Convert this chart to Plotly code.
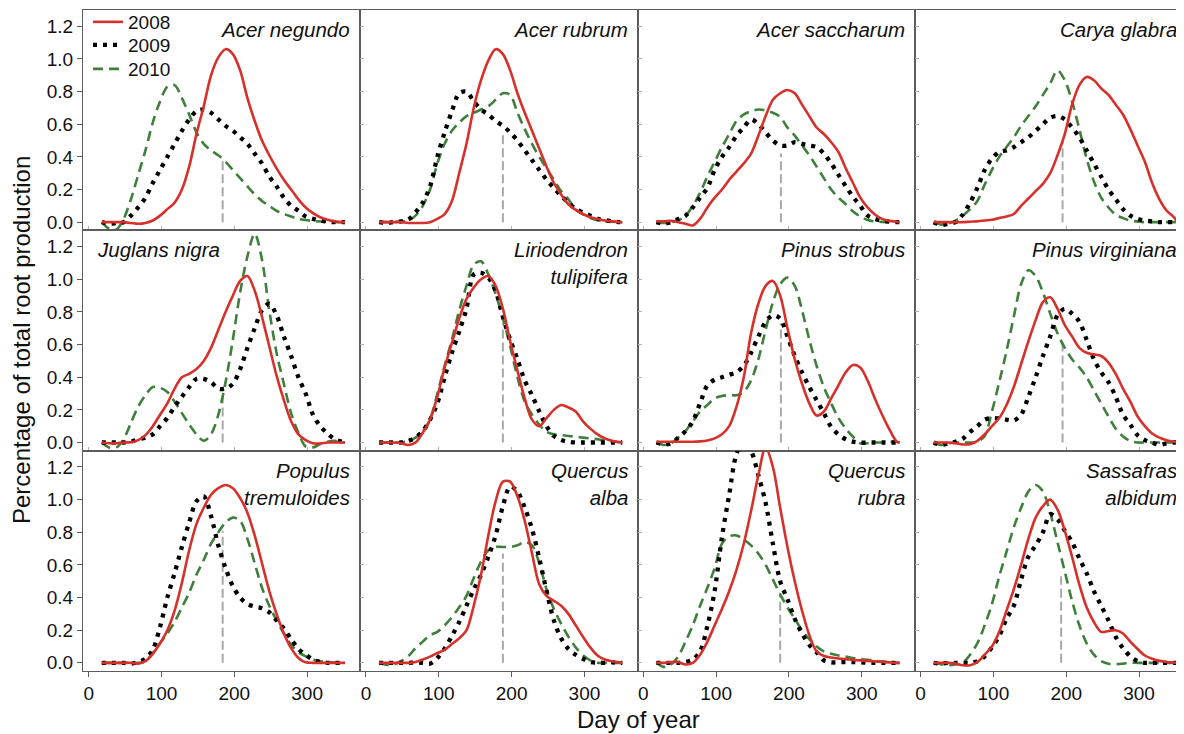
import plotly.graph_objects as go

# ---------------- data ----------------
DAYS = [18, 28, 38, 48, 58, 68, 78, 88, 98, 108, 118, 128, 138, 148, 158, 168, 178,
        188, 198, 208, 218, 228, 238, 248, 258, 268, 278, 288, 298, 308, 318, 328, 338,
        348, 352]

YEARS = ["2008", "2009", "2010"]

ACNE_2008 = [0, 0, 0, 0, -0.005, -0.01, -0.005, 0.01, 0.04, 0.08, 0.12, 0.2, 0.34, 0.54, 0.71, 0.9, 1.01, 1.06, 1.03, 0.93, 0.76, 0.62, 0.5, 0.41, 0.33, 0.26, 0.2, 0.14, 0.09, 0.055, 0.03, 0.015, 0.005, 0, 0]
ACNE_2009 = [0, -0.01, -0.005, 0, 0.04, 0.09, 0.15, 0.24, 0.32, 0.4, 0.48, 0.56, 0.63, 0.68, 0.69, 0.67, 0.63, 0.59, 0.56, 0.52, 0.48, 0.42, 0.36, 0.28, 0.22, 0.15, 0.1, 0.07, 0.035, 0.02, 0.01, 0.003, 0, 0, 0]
ACNE_2010 = [0, -0.04, -0.045, 0.02, 0.14, 0.29, 0.44, 0.61, 0.74, 0.83, 0.84, 0.76, 0.66, 0.55, 0.48, 0.44, 0.41, 0.37, 0.32, 0.27, 0.22, 0.17, 0.13, 0.1, 0.07, 0.05, 0.035, 0.02, 0.013, 0.007, 0.004, 0.002, 0, 0, 0]

ACRU_2008 = [0, 0, 0, 0, -0.005, -0.005, -0.005, 0, 0.02, 0.05, 0.13, 0.3, 0.48, 0.7, 0.87, 0.99, 1.06, 1.03, 0.93, 0.79, 0.67, 0.56, 0.45, 0.34, 0.24, 0.17, 0.11, 0.075, 0.05, 0.03, 0.02, 0.01, 0.005, 0, 0]
ACRU_2009 = [0, -0.005, 0, 0.005, 0.016, 0.06, 0.12, 0.22, 0.4, 0.55, 0.68, 0.79, 0.8, 0.74, 0.69, 0.66, 0.62, 0.59, 0.55, 0.5, 0.44, 0.38, 0.32, 0.26, 0.21, 0.16, 0.12, 0.08, 0.06, 0.04, 0.02, 0.013, 0.005, 0, 0]
ACRU_2010 = [0, 0, 0, 0.005, 0.01, 0.04, 0.1, 0.2, 0.36, 0.48, 0.56, 0.61, 0.65, 0.67, 0.69, 0.71, 0.75, 0.79, 0.78, 0.67, 0.57, 0.48, 0.4, 0.33, 0.26, 0.19, 0.14, 0.08, 0.047, 0.025, 0.012, 0.006, 0.003, 0, 0]

ACSA_2008 = [0.005, 0.005, 0.008, 0.0, -0.01, -0.02, 0.02, 0.09, 0.15, 0.2, 0.26, 0.31, 0.36, 0.42, 0.53, 0.65, 0.75, 0.79, 0.81, 0.79, 0.72, 0.65, 0.58, 0.54, 0.49, 0.43, 0.33, 0.24, 0.15, 0.09, 0.047, 0.02, 0.008, 0.003, 0]
ACSA_2009 = [0, -0.008, 0, 0.02, 0.04, 0.09, 0.15, 0.21, 0.32, 0.4, 0.46, 0.53, 0.58, 0.63, 0.6, 0.55, 0.5, 0.47, 0.47, 0.49, 0.48, 0.47, 0.46, 0.42, 0.36, 0.29, 0.22, 0.155, 0.1, 0.04, 0.02, 0.01, 0.003, 0, 0]
ACSA_2010 = [0, -0.005, 0, 0.01, 0.04, 0.1, 0.18, 0.28, 0.37, 0.46, 0.54, 0.62, 0.66, 0.68, 0.69, 0.685, 0.67, 0.645, 0.58, 0.53, 0.47, 0.41, 0.34, 0.27, 0.2, 0.15, 0.11, 0.065, 0.035, 0.013, 0.005, 0.002, 0, 0, 0]

CAGL_2008 = [0, 0, 0, 0, 0, 0.003, 0.005, 0.01, 0.015, 0.025, 0.035, 0.05, 0.1, 0.145, 0.19, 0.235, 0.3, 0.41, 0.54, 0.72, 0.84, 0.89, 0.87, 0.82, 0.78, 0.72, 0.66, 0.57, 0.47, 0.37, 0.24, 0.14, 0.07, 0.03, 0.005]
CAGL_2009 = [0, -0.015, -0.01, 0, 0.047, 0.12, 0.21, 0.32, 0.39, 0.43, 0.44, 0.46, 0.49, 0.52, 0.56, 0.6, 0.64, 0.65, 0.63, 0.58, 0.52, 0.44, 0.36, 0.28, 0.2, 0.14, 0.08, 0.04, 0.02, 0.01, 0.005, 0, 0, 0, 0]
CAGL_2010 = [0, -0.015, -0.008, 0.01, 0.04, 0.08, 0.13, 0.23, 0.32, 0.4, 0.46, 0.52, 0.59, 0.65, 0.71, 0.78, 0.85, 0.93, 0.87, 0.74, 0.57, 0.39, 0.25, 0.15, 0.09, 0.045, 0.025, 0.01, 0.004, 0, 0, 0, 0, 0, 0]

JUNI_2008 = [0, -0.005, -0.005, 0, 0.002, 0.015, 0.045, 0.1, 0.17, 0.24, 0.33, 0.4, 0.42, 0.45, 0.5, 0.58, 0.69, 0.8, 0.9, 0.99, 1.02, 0.93, 0.77, 0.59, 0.41, 0.26, 0.13, 0.05, 0.015, -0.005, -0.006, 0, 0, 0, 0]
JUNI_2009 = [0, 0, 0, 0, 0.005, 0.02, 0.03, 0.05, 0.1, 0.15, 0.22, 0.28, 0.34, 0.39, 0.39, 0.37, 0.33, 0.33, 0.36, 0.45, 0.58, 0.7, 0.81, 0.85, 0.78, 0.65, 0.53, 0.4, 0.3, 0.17, 0.1, 0.055, 0.02, 0.005, 0]
JUNI_2010 = [0, -0.03, -0.03, 0.02, 0.12, 0.22, 0.29, 0.34, 0.335, 0.31, 0.25, 0.18, 0.11, 0.05, 0.01, 0.05, 0.17, 0.37, 0.63, 0.92, 1.14, 1.28, 1.12, 0.81, 0.55, 0.36, 0.18, 0.06, -0.025, -0.03, -0.01, 0.005, 0.01, 0, 0]

LITU_2008 = [0, 0, 0, -0.005, -0.015, 0.0, 0.06, 0.14, 0.28, 0.46, 0.61, 0.76, 0.88, 0.95, 1.0, 1.02, 0.96, 0.82, 0.62, 0.44, 0.27, 0.14, 0.1, 0.15, 0.2, 0.23, 0.215, 0.19, 0.13, 0.085, 0.05, 0.025, 0.01, 0.003, 0]
LITU_2009 = [0, 0, 0, 0, 0.01, 0.03, 0.07, 0.14, 0.24, 0.4, 0.55, 0.68, 0.82, 1.03, 1.04, 1.01, 0.93, 0.77, 0.63, 0.51, 0.38, 0.29, 0.19, 0.1, 0.04, 0.015, 0.005, 0, 0, 0, 0, 0, 0, 0, 0]
LITU_2010 = [0, 0, 0, 0, 0.01, 0.03, 0.07, 0.14, 0.3, 0.47, 0.63, 0.81, 0.96, 1.09, 1.11, 1.03, 0.91, 0.76, 0.59, 0.4, 0.25, 0.17, 0.11, 0.065, 0.05, 0.045, 0.04, 0.035, 0.03, 0.025, 0.02, 0.012, 0.006, 0.002, 0]

PIST_2008 = [0.005, 0.005, 0.005, 0.005, 0.005, 0.005, 0.007, 0.012, 0.025, 0.05, 0.1, 0.22, 0.4, 0.67, 0.85, 0.96, 0.99, 0.9, 0.7, 0.51, 0.36, 0.24, 0.165, 0.19, 0.27, 0.35, 0.43, 0.475, 0.46, 0.38, 0.27, 0.17, 0.08, 0.005, 0]
PIST_2009 = [0, -0.01, -0.005, 0.03, 0.07, 0.13, 0.24, 0.35, 0.385, 0.4, 0.415, 0.43, 0.47, 0.55, 0.65, 0.74, 0.78, 0.76, 0.65, 0.53, 0.43, 0.34, 0.26, 0.18, 0.095, 0.05, 0.02, 0.005, 0, 0, 0, 0, 0, 0, 0]
PIST_2010 = [0, -0.015, -0.005, 0.03, 0.07, 0.13, 0.19, 0.23, 0.27, 0.285, 0.29, 0.29, 0.31, 0.38, 0.51, 0.69, 0.86, 0.97, 1.01, 0.96, 0.81, 0.63, 0.47, 0.34, 0.24, 0.15, 0.085, 0.035, -0.005, -0.005, 0, 0, 0.003, 0.005, 0]

PIVI_2008 = [0, 0, 0, -0.005, -0.012, -0.01, 0.01, 0.05, 0.1, 0.15, 0.23, 0.34, 0.48, 0.62, 0.75, 0.86, 0.89, 0.82, 0.72, 0.65, 0.58, 0.55, 0.54, 0.53, 0.49, 0.42, 0.33, 0.25, 0.16, 0.1, 0.055, 0.03, 0.014, 0.005, 0]
PIVI_2009 = [0, -0.015, -0.005, 0.005, 0.024, 0.065, 0.1, 0.14, 0.15, 0.147, 0.14, 0.135, 0.17, 0.28, 0.4, 0.53, 0.65, 0.78, 0.82, 0.79, 0.74, 0.63, 0.51, 0.43, 0.37, 0.28, 0.17, 0.11, 0.045, 0.015, 0, -0.015, -0.005, 0, 0]
PIVI_2010 = [0, -0.015, -0.005, 0, 0, 0, 0.005, 0.04, 0.19, 0.37, 0.56, 0.77, 0.97, 1.055, 1.02, 0.92, 0.79, 0.67, 0.58, 0.51, 0.46, 0.4, 0.32, 0.24, 0.16, 0.085, 0.037, 0.01, 0, 0, 0, 0, 0, 0, 0]

POTR_2008 = [0, 0, 0, 0, 0, -0.005, 0.01, 0.055, 0.12, 0.2, 0.32, 0.49, 0.69, 0.85, 0.95, 1.03, 1.07, 1.09, 1.07, 1.01, 0.92, 0.78, 0.61, 0.44, 0.3, 0.18, 0.09, 0.03, 0.003, 0, 0, 0, 0, 0, 0]
POTR_2009 = [0, 0, 0, 0, -0.005, 0.005, 0.025, 0.08, 0.22, 0.4, 0.55, 0.71, 0.86, 0.99, 1.02, 0.9, 0.72, 0.58, 0.47, 0.4, 0.36, 0.345, 0.335, 0.31, 0.26, 0.21, 0.145, 0.085, 0.05, 0.02, 0.005, 0, 0, 0, 0]
POTR_2010 = [0, 0, 0, 0, 0, 0, 0.01, 0.06, 0.12, 0.18, 0.25, 0.34, 0.43, 0.54, 0.63, 0.73, 0.8, 0.86, 0.89, 0.87, 0.76, 0.61, 0.46, 0.35, 0.26, 0.18, 0.11, 0.065, 0.04, 0.02, 0.01, 0.005, 0.002, 0, 0]

QUAL_2008 = [0, 0, 0, 0, 0, 0.005, 0.02, 0.038, 0.06, 0.08, 0.115, 0.15, 0.2, 0.35, 0.54, 0.78, 0.99, 1.11, 1.11, 1.02, 0.87, 0.67, 0.48, 0.41, 0.38, 0.35, 0.3, 0.23, 0.16, 0.095, 0.045, 0.02, 0.01, 0.003, 0]
QUAL_2009 = [0, 0, 0, 0, 0, 0.002, 0.0, -0.005, 0.03, 0.087, 0.165, 0.25, 0.35, 0.45, 0.54, 0.65, 0.78, 0.96, 1.08, 1.05, 0.95, 0.82, 0.64, 0.44, 0.26, 0.15, 0.085, 0.05, 0.025, 0.005, 0, 0, 0.003, 0, 0]
QUAL_2010 = [0, -0.012, -0.01, 0.01, 0.04, 0.09, 0.13, 0.17, 0.19, 0.23, 0.28, 0.34, 0.41, 0.52, 0.62, 0.69, 0.71, 0.71, 0.71, 0.72, 0.74, 0.72, 0.61, 0.45, 0.33, 0.24, 0.16, 0.095, 0.047, 0.015, 0, 0, 0, 0, 0]

QURU_2008 = [0, 0, 0.005, 0.005, -0.01, 0.0, 0.05, 0.13, 0.23, 0.33, 0.44, 0.57, 0.73, 0.93, 1.15, 1.32, 1.2, 0.95, 0.71, 0.5, 0.32, 0.17, 0.07, 0.042, 0.033, 0.027, 0.023, 0.018, 0.015, 0.012, 0.009, 0.006, 0.003, 0, 0]
QURU_2009 = [0, 0, 0, 0, 0.005, 0.02, 0.07, 0.225, 0.44, 0.77, 1.03, 1.28, 1.36, 1.3, 1.15, 0.98, 0.73, 0.5, 0.39, 0.27, 0.18, 0.11, 0.065, 0.015, 0.003, 0.003, 0.005, 0.005, 0.003, 0, 0, 0, 0, 0, 0]
QURU_2010 = [0, -0.025, -0.01, 0.04, 0.13, 0.23, 0.35, 0.46, 0.58, 0.73, 0.775, 0.78, 0.755, 0.72, 0.67, 0.6, 0.51, 0.42, 0.34, 0.27, 0.2, 0.145, 0.1, 0.07, 0.055, 0.045, 0.038, 0.03, 0.024, 0.018, 0.012, 0.008, 0.004, 0, 0]

SAAL_2008 = [0, 0, 0, -0.005, -0.015, -0.015, 0.005, 0.05, 0.1, 0.19, 0.32, 0.45, 0.6, 0.76, 0.89, 0.96, 1.0, 0.94, 0.81, 0.65, 0.48, 0.34, 0.25, 0.19, 0.195, 0.2, 0.18, 0.13, 0.085, 0.045, 0.025, 0.012, 0.005, 0.002, 0]
SAAL_2009 = [0, -0.005, 0, 0, 0, 0, 0.01, 0.04, 0.095, 0.165, 0.27, 0.35, 0.51, 0.65, 0.72, 0.8, 0.91, 0.88, 0.81, 0.74, 0.64, 0.55, 0.44, 0.35, 0.26, 0.16, 0.09, 0.04, 0.01, 0, 0, 0, 0, 0, 0]
SAAL_2010 = [0, -0.008, -0.015, -0.01, 0.0, 0.05, 0.12, 0.23, 0.36, 0.53, 0.68, 0.83, 0.95, 1.05, 1.09, 1.05, 0.92, 0.74, 0.56, 0.38, 0.23, 0.12, 0.05, 0.01, -0.005, -0.008, -0.005, 0, 0, 0, 0, 0, 0, 0, 0]

SPECIES = ["Acer negundo", "Acer rubrum", "Acer saccharum", "Carya glabra",
           "Juglans nigra", "Liriodendron<br>tulipifera", "Pinus strobus", "Pinus virginiana",
           "Populus<br>tremuloides", "Quercus<br>alba", "Quercus<br>rubra", "Sassafras<br>albidum"]
TITLE_SIDE = ["right", "right", "right", "right",
              "left", "right", "right", "right",
              "right", "right", "right", "right"]

SERIES = [
    (ACNE_2008, ACNE_2009, ACNE_2010), (ACRU_2008, ACRU_2009, ACRU_2010),
    (ACSA_2008, ACSA_2009, ACSA_2010), (CAGL_2008, CAGL_2009, CAGL_2010),
    (JUNI_2008, JUNI_2009, JUNI_2010), (LITU_2008, LITU_2009, LITU_2010),
    (PIST_2008, PIST_2009, PIST_2010), (PIVI_2008, PIVI_2009, PIVI_2010),
    (POTR_2008, POTR_2009, POTR_2010), (QUAL_2008, QUAL_2009, QUAL_2010),
    (QURU_2008, QURU_2009, QURU_2010), (SAAL_2008, SAAL_2009, SAAL_2010),
]

# gray dashed reference line per panel (day, height)
VLINE_DAY = [184, 188, 189, 195, 184, 188, 189, 195, 184, 188, 188, 193]
VLINE_TOP = [0.38, 0.555, 0.42, 0.5, 0.3, 0.73, 0.73, 0.62, 0.81, 0.67, 0.43, 0.53]

X_TICKS = [0, 100, 200, 300]
Y_TICKS = [0.0, 0.2, 0.4, 0.6, 0.8, 1.0, 1.2]

# ---------------- styling / layout ----------------
# The page body has an 8px default margin, so the figure is sized 8px smaller.
W, H = 1176, 726
ML, MR, MT, MB = 75, 0, 2, 63
PLOT_W = W - ML - MR
PLOT_H = H - MT - MB
PANEL_PX = 277.3
PX_PER_DAY = 0.7282
X_MIN = -7.8
Y_RANGE = [-0.05, 1.30]

FONT = "Liberation Sans, Arial, Helvetica, sans-serif"
RED = "#d7302b"
GREEN = "#3e7f3a"
BLACK = "#000000"
GRAY = "#a8a8a8"
FRAME = "#5c5c5c"

STYLES = [
    dict(color=RED, width=2.6, dash="solid"),
    dict(color=BLACK, width=4.3, dash="4px,6px"),
    dict(color=GREEN, width=2.6, dash="10px,6px"),
]
LEGEND_NAMES = ["legend", "legend2", "legend3"]
LEGEND_Y_PX = [14, 37, 61]          # figure-pixel centre of each legend row

fig = go.Figure()

col_edges = [(0, PANEL_PX), (PANEL_PX, 2 * PANEL_PX), (2 * PANEL_PX, 3 * PANEL_PX),
             (3 * PANEL_PX, PLOT_W)]
row_dom = [(2 / 3, 1.0), (1 / 3, 2 / 3), (0.0, 1 / 3)]

annotations = []
for i in range(12):
    r, c = divmod(i, 4)
    n = i + 1
    xa = "x" if n == 1 else f"x{n}"
    ya = "y" if n == 1 else f"y{n}"

    # vertical gray dashed line
    fig.add_trace(go.Scatter(
        x=[VLINE_DAY[i], VLINE_DAY[i]], y=[0, VLINE_TOP[i]], mode="lines",
        line=dict(color=GRAY, width=2, dash="9px,4px"),
        xaxis=xa, yaxis=ya, showlegend=False, hoverinfo="skip"))

    for k in (2, 1, 0):
        fig.add_trace(go.Scatter(
            x=DAYS, y=SERIES[i][k], mode="lines", name=YEARS[k],
            line=dict(shape="spline", smoothing=0.9, **STYLES[k]),
            xaxis=xa, yaxis=ya, showlegend=(i == 0), legend=LEGEND_NAMES[k],
            hoverinfo="skip"))

    x0p, x1p = col_edges[c]
    dom_x = [x0p / PLOT_W, x1p / PLOT_W]
    x_max = X_MIN + (x1p - x0p) / PX_PER_DAY
    bottom = (r == 2)
    left = (c == 0)

    xkey = "xaxis" if n == 1 else f"xaxis{n}"
    ykey = "yaxis" if n == 1 else f"yaxis{n}"
    fig.layout[xkey] = dict(
        domain=dom_x, range=[X_MIN, x_max], anchor=ya, automargin=False,
        tickvals=X_TICKS, showticklabels=bottom,
        ticks="outside" if bottom else "inside",
        ticklen=5 if bottom else 4,
        tickcolor=FRAME if bottom else "#b0b0b0",
        tickfont=dict(family=FONT, size=19, color="#111"),
        showline=True, linecolor=FRAME, linewidth=1, mirror=True,
        showgrid=False, zeroline=False, fixedrange=True)
    fig.layout[ykey] = dict(
        domain=list(row_dom[r]), range=Y_RANGE, anchor=xa, automargin=False,
        tickvals=Y_TICKS, tickformat=".1f", showticklabels=left,
        ticks="outside" if left else "inside",
        ticklen=5 if left else 4,
        tickcolor=FRAME if left else "#b0b0b0",
        tickfont=dict(family=FONT, size=19, color="#111"),
        showline=True, linecolor=FRAME, linewidth=1, mirror=(c != 3),
        showgrid=False, zeroline=False, fixedrange=True)

    side = TITLE_SIDE[i]
    annotations.append(dict(
        text="<i>" + SPECIES[i] + "</i>", showarrow=False,
        xref=f"{xa} domain", yref=f"{ya} domain",
        x=1 if side == "right" else 0, y=1,
        xanchor=side, yanchor="top", align=side,
        xshift=(-8 if c != 3 else -5) if side == "right" else 12, yshift=-6,
        font=dict(family=FONT, size=20.5, color="#111")))

annotations.append(dict(
    text="Percentage of total root production", showarrow=False, textangle=-90,
    xref="paper", yref="paper", x=(13 - ML) / PLOT_W, y=(H - MB - 332) / PLOT_H,
    xanchor="center", yanchor="middle", font=dict(family=FONT, size=24, color="#111")))
annotations.append(dict(
    text="Day of year", showarrow=False,
    xref="paper", yref="paper", x=(630 - ML) / PLOT_W, y=(H - MB - 711) / PLOT_H,
    xanchor="center", yanchor="middle", font=dict(family=FONT, size=24, color="#111")))

legend_layout = {}
for k, lname in enumerate(LEGEND_NAMES):
    legend_layout[lname] = dict(
        x=(80 - ML) / PLOT_W, y=(H - MB - LEGEND_Y_PX[k]) / PLOT_H,
        xanchor="left", yanchor="middle",
        bgcolor="rgba(0,0,0,0)", borderwidth=0,
        font=dict(family=FONT, size=19, color="#111"),
        itemwidth=30)

fig.update_layout(
    width=W, height=H,
    margin=dict(l=ML, r=MR, t=MT, b=MB, pad=0, autoexpand=False),
    paper_bgcolor="white", plot_bgcolor="white",
    annotations=annotations,
    showlegend=True,
    font=dict(family=FONT),
    **legend_layout,
)

fig.write_html("out.html", config={"displayModeBar": False})
